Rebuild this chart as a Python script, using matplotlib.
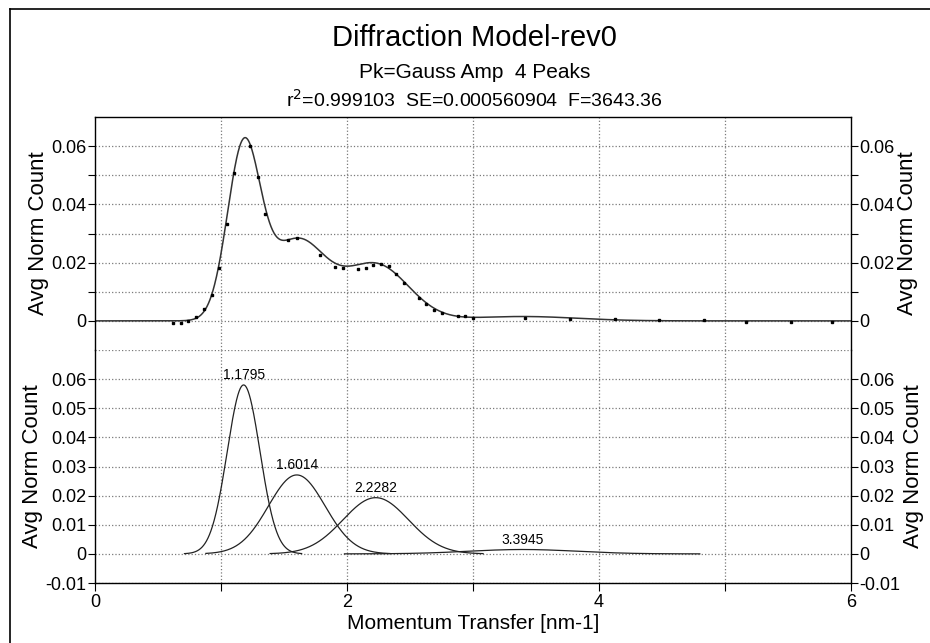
import numpy as np
import matplotlib
matplotlib.use('Agg')
import matplotlib.pyplot as plt
from matplotlib.lines import Line2D

plt.rcParams['font.family'] = ['Liberation Sans', 'DejaVu Sans']

# measured points (momentum transfer, avg norm count)
q_data = [0.617, 0.68, 0.741, 0.80, 0.865, 0.926, 0.982, 1.045, 1.106, 1.228,
          1.291, 1.352, 1.534, 1.60, 1.786, 1.905, 1.966, 2.09, 2.15, 2.21,
          2.27, 2.33, 2.39, 2.45, 2.57, 2.63, 2.69, 2.75, 2.88, 2.94, 3.0,
          3.41, 3.77, 4.13, 4.48, 4.83, 5.17, 5.52, 5.85]
count_data = [-0.0006, -0.0006, 0.0001, 0.0015, 0.0040, 0.0089, 0.0181, 0.0333, 0.0508, 0.0601,
              0.0495, 0.0366, 0.0278, 0.0283, 0.0226, 0.0186, 0.0181, 0.0177, 0.0183, 0.0193,
              0.0194, 0.0187, 0.0160, 0.0131, 0.0078, 0.0057, 0.0038, 0.0028, 0.0018, 0.0017, 0.0011,
              0.0010, 0.0007, 0.0007, 0.0004, 0.0003, -0.0003, -0.0003, -0.0003]

# fitted gaussian peaks
peak_centers = [1.1795, 1.6014, 2.2282, 3.3945]
peak_amps = [0.0580, 0.0271, 0.0193, 0.0015]
peak_widths = [0.13, 0.225, 0.26, 0.43]
peak_from = [0.71, 0.88, 1.39, 1.98]
peak_to = [1.64, 2.34, 3.08, 4.80]

upper_ticks = [0, 0.01, 0.02, 0.03, 0.04, 0.05, 0.06]
upper_labels = ['0', '', '0.02', '', '0.04', '', '0.06']
lower_ticks = [-0.01, 0, 0.01, 0.02, 0.03, 0.04, 0.05, 0.06]
lower_labels = ['-0.01', '0', '0.01', '0.02', '0.03', '0.04', '0.05', '0.06']
x_ticks = [0, 1, 2, 3, 4, 5, 6]
x_labels = ['0', '', '2', '', '4', '', '6']


def gauss(x, a, c, w):
    return a * np.exp(-(x - c) ** 2 / (2 * w ** 2))


W, H = 930, 643
fig = plt.figure(figsize=(9.3, 6.43), dpi=100)
left = 95 / W
width = (851 - 95) / W
ax_top = fig.add_axes([left, 1 - 350 / H, width, 233 / H])
ax_bot = fig.add_axes([left, 1 - 583 / H, width, 233 / H])

grid_kw = dict(color='#7a7a7a', linestyle=':', linewidth=0.9)


def style(ax, ticks, labels, show_x):
    ax.set_xlim(0, 6)
    ax.set_ylim(-0.01, 0.07)
    ax.set_xticks(x_ticks)
    for v in [1, 2, 3, 4, 5]:
        ax.axvline(v, zorder=0, **grid_kw)
    for v in ticks:
        ax.axhline(v, zorder=0, **grid_kw)
    if show_x:
        ax.set_xticklabels(x_labels)
        ax.tick_params(axis='x', direction='out', length=6, labelsize=13, pad=2)
    else:
        ax.tick_params(axis='x', length=0, labelbottom=False)
    for s in ax.spines.values():
        s.set_linewidth(1.0)
    ax2 = ax.twinx()
    for a, side in [(ax, 'left'), (ax2, 'right')]:
        a.set_ylim(-0.01, 0.07)
        a.set_yticks(ticks)
        a.set_yticklabels(labels)
        a.tick_params(axis='y', direction='out', length=5, labelsize=13, pad=1)
        a.set_ylabel('Avg Norm Count', fontsize=16, labelpad=2)
    for s in ax2.spines.values():
        s.set_visible(False)
    return ax2


style(ax_top, upper_ticks, upper_labels, False)
style(ax_bot, lower_ticks, lower_labels, True)
ax_top.spines['bottom'].set_visible(False)
ax_bot.spines['top'].set_visible(False)
ax_bot.axhline(0.07, zorder=0, **grid_kw)

# upper panel: total fit + data
q = np.linspace(0, 6, 1500)
total = np.zeros_like(q)
for a, c, w in zip(peak_amps, peak_centers, peak_widths):
    total += gauss(q, a, c, w)
ax_top.plot(q, total, color='#333333', linewidth=1.1)
ax_top.plot(q_data, count_data, linestyle='none', marker='s', markersize=2,
            color='black')

# lower panel: individual peaks
for a, c, w, x0, x1 in zip(peak_amps, peak_centers, peak_widths, peak_from, peak_to):
    xs = np.linspace(x0, x1, 400)
    ax_bot.plot(xs, gauss(xs, a, c, w), color='#222222', linewidth=0.9)
    ax_bot.annotate(f'{c:.4f}', (c, a), xytext=(0, 2), textcoords='offset points',
                    ha='center', va='bottom', fontsize=10)

ax_bot.set_xlabel('Momentum Transfer [nm-1]', fontsize=15, labelpad=2)

fig.text(0.5 + 0.01, 1 - 38 / H, 'Diffraction Model-rev0', ha='center', va='center', fontsize=21)
fig.text(0.5 + 0.01, 1 - 72 / H, 'Pk=Gauss Amp  4 Peaks', ha='center', va='center', fontsize=15)
fig.text(0.5 + 0.01, 1 - 100 / H, r'r$^2$=0.999103  SE=0.000560904  F=3643.36',
         ha='center', va='center', fontsize=14)

# outer frame
fig.add_artist(Line2D([10 / W, 10 / W], [0, 1 - 9 / H], color='black', linewidth=1.2))
fig.add_artist(Line2D([10 / W, 1], [1 - 9 / H, 1 - 9 / H], color='black', linewidth=1.2))

fig.savefig('out.png', dpi=100)
